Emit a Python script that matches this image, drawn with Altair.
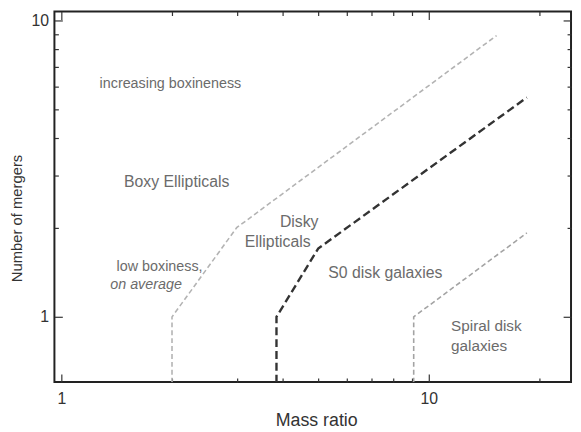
import altair as alt
import pandas as pd

# boundary lines: mass ratio vs number of mergers
boxy_x = [2.0, 2.0, 3.0, 15.3]
boxy_y = [0.6, 1.0, 2.0, 8.9]
s0_x = [3.85, 3.85, 5.0, 18.5]
s0_y = [0.6, 1.0, 1.7, 5.5]
spiral_x = [9.1, 9.1, 18.5]
spiral_y = [0.6, 1.0, 1.92]

# region labels (anchor in data units)
big_text = ["Boxy Ellipticals", "Disky", "Ellipticals", "S0 disk galaxies"]
big_x = [2.06, 4.44, 3.88, 7.62]
big_y = [2.84, 2.09, 1.79, 1.41]
spiral_text = ["Spiral disk", "galaxies"]
spiral_tx = [11.5, 11.5]
spiral_ty = [0.933, 0.80]
note_text = ["increasing boxineness", "low boxiness,"]
note_x = [1.98, 1.85]
note_y = [6.12, 1.47]
italic_text = ["on average"]
italic_x = [1.70]
italic_y = [1.28]

x_major = [1, 10]
x_minor = [2, 3, 4, 5, 6, 7, 8, 9, 20]
y_major = [1, 10]
y_minor = [2, 3, 4, 5, 6, 7, 8, 9]

FONT = "Liberation Sans"
LABEL_GREY = "#6b6b6b"

rows = []
for name, xs, ys in [("boxy", boxy_x, boxy_y), ("s0", s0_x, s0_y),
                     ("spiral", spiral_x, spiral_y)]:
    for i, (x, y) in enumerate(zip(xs, ys)):
        rows.append({"boundary": name, "step": i, "mass_ratio": x, "mergers": y})
lines = pd.DataFrame(rows)

xscale = alt.Scale(type="log", domain=[0.957, 24.4], nice=False)
yscale = alt.Scale(type="log", domain=[0.603, 10.72], nice=False)


def tick_axis(orient, values, size, **kw):
    """Axis drawn with ticks pointing into the plot (negative offset trick)."""
    opts = dict(orient=orient, values=values, tickSize=size, offset=-size,
                domain=False, grid=False, tickColor="#333", tickWidth=1.2,
                labels=False)
    opts.update(kw)
    return alt.Axis(**opts)


def axis_layer(xaxis, yaxis, xtitle=None, ytitle=None):
    return alt.Chart(lines).mark_point(opacity=0).encode(
        x=alt.X("mass_ratio:Q", scale=xscale, axis=xaxis, title=xtitle),
        y=alt.Y("mergers:Q", scale=yscale, axis=yaxis, title=ytitle),
    )


label_style = dict(labels=True, labelFont=FONT, labelFontSize=16,
                   labelColor="#333", format="d")

main_axes = axis_layer(
    tick_axis("bottom", x_major, 8, labelPadding=9, labelFlush=False,
              titleFont=FONT, titleFontSize=18, titleColor="#333",
              titleFontWeight="normal", titleBaseline="alphabetic",
              titleY=52, titleX=265, **label_style),
    tick_axis("left", y_major, 8, labelPadding=6,
              titleFont=FONT, titleFontSize=15, titleColor="#333",
              titleFontWeight="normal", titleAngle=270,
              titleBaseline="alphabetic", titleAlign="center",
              titleX=-41, titleY=209, **label_style),
    xtitle="Mass ratio", ytitle="Number of mergers",
)
minor_axes = axis_layer(tick_axis("bottom", x_minor, 4),
                        tick_axis("left", y_minor, 4))
top_major = axis_layer(tick_axis("top", x_major, 8),
                       tick_axis("right", y_major, 8))
top_minor = axis_layer(tick_axis("top", x_minor, 4),
                       tick_axis("right", y_minor, 4))


def boundary(name, color, dash, width):
    return alt.Chart(lines).transform_filter(
        alt.datum.boundary == name
    ).mark_line(color=color, strokeDash=dash, strokeWidth=width, clip=True).encode(
        x=alt.X("mass_ratio:Q", scale=xscale, axis=None),
        y=alt.Y("mergers:Q", scale=yscale, axis=None),
        order="step:O",
    )


boxy_line = boundary("boxy", "#b3b3b3", [5, 3], 1.6)
s0_line = boundary("s0", "#333333", [8, 4], 2.4)
spiral_line = boundary("spiral", "#a3a3a3", [5, 3], 1.6)


def labels(texts, xs, ys, size, align="center", style="normal"):
    df = pd.DataFrame({"text": texts, "x": xs, "y": ys})
    return alt.Chart(df).mark_text(
        font=FONT, fontSize=size, color=LABEL_GREY, align=align,
        baseline="middle", fontStyle=style
    ).encode(
        x=alt.X("x:Q", scale=xscale, axis=None),
        y=alt.Y("y:Q", scale=yscale, axis=None),
        text="text:N",
    )


big_labels = labels(big_text, big_x, big_y, 16)
spiral_labels = labels(spiral_text, spiral_tx, spiral_ty, 15.5, align="left")
note_labels = labels(note_text, note_x, note_y, 14.5)
italic_labels = labels(italic_text, italic_x, italic_y, 14.5, style="italic")

chart = alt.layer(
    main_axes, minor_axes, top_major, top_minor,
    boxy_line, s0_line, spiral_line,
    big_labels, spiral_labels, note_labels, italic_labels,
).resolve_axis(
    x="independent", y="independent"
).properties(
    width=523,
    height=375,
    autosize="none",
    padding={"left": 47, "top": 1, "right": 2, "bottom": 47},
).configure_view(
    stroke="#222", strokeWidth=2
)

chart.save("out.html", embed_options={"renderer": "svg", "actions": False})
